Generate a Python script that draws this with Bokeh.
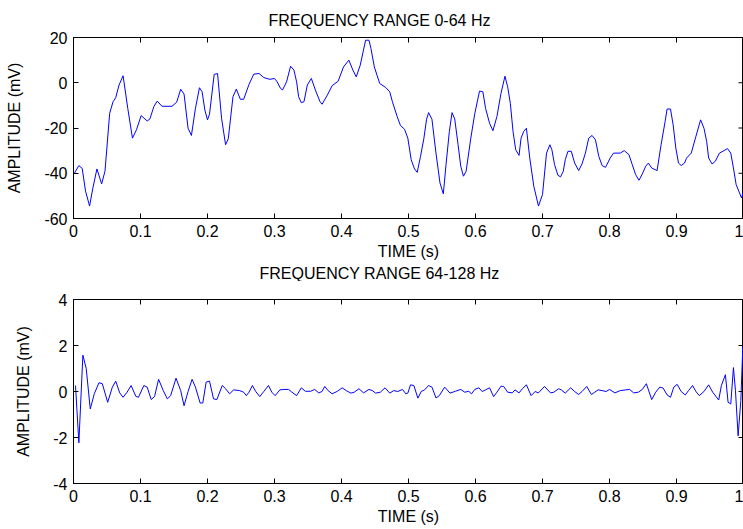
import math
from bokeh.plotting import figure
from bokeh.layouts import column
from bokeh.models import Range1d, FixedTicker, Title
from bokeh.embed import file_html
from bokeh.resources import INLINE

FONT = "Liberation Sans"

# ---------------- data ----------------
title_low = "FREQUENCY RANGE 0-64 Hz"
title_high = "FREQUENCY RANGE 64-128 Hz"
x_label = "TIME (s)"
y_label = "AMPLITUDE (mV)"

x_ticks = [0, 0.1, 0.2, 0.3, 0.4, 0.5, 0.6, 0.7, 0.8, 0.9, 1.0]
x_tick_labels = ["0", "0.1", "0.2", "0.3", "0.4", "0.5", "0.6", "0.7", "0.8", "0.9", "1"]
y_ticks_low = [-60, -40, -20, 0, 20]
y_tick_labels_low = ["-60", "-40", "-20", "0", "20"]
y_ticks_high = [-4, -2, 0, 2, 4]
y_tick_labels_high = ["-4", "-2", "0", "2", "4"]

t_low = [0.0015, 0.008, 0.013, 0.018, 0.024, 0.029, 0.035, 0.042, 0.047, 0.054,
         0.059, 0.063, 0.068, 0.074, 0.081, 0.088, 0.094, 0.101, 0.110, 0.114,
         0.120, 0.125, 0.132, 0.147, 0.154, 0.160, 0.165, 0.171, 0.176, 0.182,
         0.188, 0.192, 0.196, 0.200, 0.203, 0.210, 0.215, 0.221, 0.227, 0.231,
         0.238, 0.243, 0.249, 0.254, 0.262, 0.269, 0.277, 0.284, 0.293, 0.300,
         0.304, 0.309, 0.312, 0.318, 0.324, 0.329, 0.333, 0.336, 0.340, 0.344,
         0.349, 0.355, 0.361, 0.368, 0.371, 0.379, 0.386, 0.395, 0.403, 0.411,
         0.417, 0.422, 0.428, 0.436, 0.441, 0.444, 0.449, 0.457, 0.466, 0.472,
         0.476, 0.483, 0.488, 0.494, 0.499, 0.504, 0.509, 0.513, 0.518, 0.523,
         0.527, 0.530, 0.535, 0.541, 0.547, 0.552, 0.556, 0.561, 0.565, 0.569,
         0.574, 0.578, 0.582, 0.586, 0.593, 0.599, 0.606, 0.611, 0.615, 0.621,
         0.626, 0.632, 0.638, 0.644, 0.648, 0.652, 0.656, 0.660, 0.665, 0.668,
         0.672, 0.676, 0.681, 0.687, 0.694, 0.700, 0.706, 0.711, 0.714, 0.718,
         0.723, 0.727, 0.731, 0.734, 0.738, 0.743, 0.748, 0.754, 0.759, 0.764,
         0.769, 0.774, 0.779, 0.784, 0.789, 0.794, 0.801, 0.806, 0.816, 0.822,
         0.829, 0.834, 0.839, 0.844, 0.849, 0.854, 0.858, 0.863, 0.871, 0.877,
         0.883, 0.886, 0.891, 0.895, 0.899, 0.903, 0.907, 0.912, 0.915, 0.922,
         0.929, 0.936, 0.941, 0.945, 0.948, 0.953, 0.958, 0.964, 0.971, 0.976,
         0.981, 0.985, 0.989, 0.993, 0.997, 1.000]
amp_low = [-39.9, -36.6, -37.9, -47.9, -54.5, -46.4, -38.1, -44.7, -39.1, -13.5,
           -8.4, -6.6, -1.0, 3.1, -11.3, -24.5, -20.8, -14.5, -16.9, -16.0,
           -10.5, -8.1, -10.4, -10.4, -8.6, -2.9, -5.0, -20.1, -23.3, -11.3,
           -2.2, -4.0, -12.0, -16.4, -13.9, 3.7, 4.1, -15.7, -27.4, -24.8,
           -6.2, -2.8, -7.3, -7.3, -0.7, 3.8, 4.1, 2.3, 1.5, 1.9,
           0.4, -2.5, -3.2, 0.4, 7.3, 5.6, 0.4, -6.2, -8.8, -8.4,
           -1.0, 1.9, -3.2, -8.4, -9.5, -5.4, -1.3, 0.7, 7.0, 10.0,
           5.6, 2.6, 7.8, 18.8, 18.8, 15.1, 7.0, -0.3, -2.1, -4.0,
           -8.4, -14.9, -18.9, -20.5, -24.5, -34.0, -38.1, -39.6, -32.5, -24.5,
           -16.1, -13.2, -16.1, -31.1, -44.3, -49.1, -36.2, -21.5, -13.2, -16.0,
           -27.4, -36.9, -41.3, -39.1, -24.5, -13.5, -3.7, -4.0, -11.3, -17.9,
           -21.2, -14.9, -4.7, 2.9, -1.8, -9.1, -21.5, -29.6, -32.1, -24.5,
           -21.5, -20.1, -33.3, -45.7, -54.5, -49.4, -31.1, -27.4, -29.6, -36.2,
           -40.9, -41.6, -39.1, -34.0, -30.3, -30.3, -35.5, -38.8, -35.9, -31.1,
           -24.5, -23.3, -25.2, -32.5, -36.6, -37.4, -33.3, -31.1, -31.1, -30.0,
           -31.8, -36.2, -40.6, -43.1, -40.3, -36.9, -35.5, -37.7, -38.8, -27.4,
           -17.1, -11.6, -11.6, -18.6, -28.9, -35.5, -36.6, -35.5, -33.3, -31.1,
           -23.7, -16.4, -20.1, -25.9, -33.3, -35.9, -34.7, -31.1, -30.0, -29.1,
           -31.1, -37.7, -45.0, -47.9, -50.9, -47.9]

t_high = [0.003, 0.008, 0.014, 0.019, 0.025, 0.031, 0.038, 0.043, 0.051, 0.058,
          0.063, 0.069, 0.074, 0.080, 0.086, 0.093, 0.097, 0.105, 0.110, 0.116,
          0.121, 0.127, 0.134, 0.140, 0.145, 0.153, 0.160, 0.165, 0.171, 0.177,
          0.182, 0.189, 0.193, 0.198, 0.203, 0.209, 0.214, 0.222, 0.227, 0.233,
          0.239, 0.248, 0.254, 0.258, 0.262, 0.267, 0.272, 0.278, 0.284, 0.291,
          0.296, 0.301, 0.308, 0.314, 0.321, 0.326, 0.333, 0.340, 0.346, 0.354,
          0.360, 0.366, 0.371, 0.375, 0.380, 0.386, 0.394, 0.401, 0.407, 0.414,
          0.419, 0.426, 0.433, 0.441, 0.446, 0.451, 0.458, 0.465, 0.472, 0.478,
          0.484, 0.491, 0.496, 0.499, 0.503, 0.508, 0.514, 0.519, 0.524, 0.530,
          0.535, 0.541, 0.546, 0.554, 0.562, 0.570, 0.578, 0.584, 0.590, 0.594,
          0.599, 0.605, 0.610, 0.615, 0.621, 0.627, 0.632, 0.638, 0.642, 0.648,
          0.655, 0.659, 0.665, 0.670, 0.676, 0.683, 0.689, 0.694, 0.703, 0.712,
          0.717, 0.724, 0.728, 0.734, 0.742, 0.748, 0.754, 0.759, 0.766, 0.773,
          0.778, 0.783, 0.789, 0.795, 0.800, 0.808, 0.816, 0.824, 0.830, 0.836,
          0.843, 0.849, 0.855, 0.863, 0.869, 0.875, 0.880, 0.886, 0.891, 0.896,
          0.901, 0.907, 0.913, 0.918, 0.924, 0.929, 0.934, 0.941, 0.948, 0.954,
          0.963, 0.967, 0.973, 0.977, 0.981, 0.985, 0.988, 0.992, 0.996, 0.999]
amp_high = [0.26, -2.23, 1.58, 1.0, -0.76, -0.1, 0.38, 0.34, -0.47, 0.19,
            0.45, -0.06, -0.25, -0.03, 0.26, -0.21, -0.25, 0.26, 0.19, -0.35,
            -0.22, 0.53, 0.04, -0.32, -0.18, 0.58, 0.04, -0.62, 0.0, 0.53,
            0.19, -0.5, -0.5, 0.41, 0.45, -0.32, -0.35, 0.26, 0.12, -0.1,
            0.07, 0.04, -0.03, -0.18, -0.03, 0.26, 0.0, -0.22, 0.0, 0.26,
            -0.03, -0.18, 0.07, 0.09, 0.09, -0.03, -0.18, 0.16, 0.01, 0.01,
            0.09, -0.06, 0.0, 0.22, 0.04, -0.1, 0.01, 0.16, 0.04, -0.07,
            -0.03, 0.12, -0.06, 0.09, 0.04, -0.07, -0.03, 0.16, -0.07, 0.04,
            0.0, 0.09, -0.1, -0.07, 0.29, 0.26, -0.29, 0.0, 0.07, 0.26,
            0.19, -0.28, -0.18, 0.19, -0.07, 0.01, 0.09, -0.03, 0.01, -0.1,
            0.09, 0.16, 0.0, 0.07, 0.16, -0.22, -0.03, 0.23, 0.22, -0.03,
            -0.06, 0.07, -0.06, 0.12, 0.29, -0.18, 0.0, -0.06, 0.22, -0.06,
            -0.03, 0.12, 0.07, -0.07, 0.16, 0.0, -0.13, 0.0, 0.22, -0.13,
            -0.03, 0.07, 0.04, 0.0, 0.09, -0.06, 0.04, 0.07, 0.09, -0.06,
            -0.03, 0.09, 0.34, -0.35, -0.03, 0.19, 0.15, -0.15, -0.25, 0.19,
            0.31, 0.0, -0.15, 0.04, 0.26, 0.0, -0.18, 0.0, 0.29, -0.03,
            -0.37, 0.26, 0.73, -0.47, -0.54, 1.04, 0.04, -1.93, -0.4, 1.95]


def style_axis(ax, ticks, labels):
    ax.ticker = FixedTicker(ticks=ticks)
    ax.major_label_overrides = {tk: lb for tk, lb in zip(ticks, labels)}
    ax.major_tick_in = 5
    ax.major_tick_out = 0
    ax.minor_tick_in = 0
    ax.minor_tick_out = 0
    ax.axis_line_color = "black"
    ax.major_tick_line_color = "black"
    ax.major_label_text_color = "black"
    ax.major_label_text_font = FONT
    ax.major_label_text_font_size = "16px"
    ax.major_label_standoff = 6


def style_title(tt, offset, standoff):
    tt.text_font = FONT
    tt.text_font_size = "16px"
    tt.text_font_style = "normal"
    tt.text_color = "black"
    tt.align = "left"
    tt.offset = offset
    tt.standoff = standoff


def make_fig(t, v, y_lo, y_hi, yticks, ylabels, height, top, bottom):
    p = figure(width=743, height=height, output_backend="svg", toolbar_location=None,
               x_range=Range1d(0, 1), y_range=Range1d(y_lo, y_hi),
               min_border_left=73, min_border_right=0,
               min_border_top=top, min_border_bottom=bottom)
    p.line(t, v, line_color="#0000ff", line_width=1)
    # inward tick marks on the top and right edges of the box (clipped to frame)
    p.scatter(x_ticks, [y_hi] * len(x_ticks), marker="dash", angle=math.pi / 2,
              size=10, line_color="black", line_width=1)
    p.scatter([1.0] * len(yticks), yticks, marker="dash",
              size=10, line_color="black", line_width=1)
    p.grid.visible = False
    p.outline_line_color = "black"
    p.background_fill_color = "white"
    p.border_fill_color = "white"

    style_axis(p.xaxis[0], x_ticks, x_tick_labels)
    style_axis(p.yaxis[0], yticks, ylabels)
    p.xaxis[0].axis_label = x_label
    p.yaxis[0].axis_label = y_label
    for ax in (p.xaxis[0], p.yaxis[0]):
        ax.axis_label_text_font = FONT
        ax.axis_label_text_font_size = "16px"
        ax.axis_label_text_font_style = "normal"
        ax.axis_label_text_color = "black"
    p.xaxis[0].axis_label_standoff = 3
    p.yaxis[0].axis_label_standoff = 18
    return p


# upper panel: its title sits above its frame
p1 = make_fig(t_low, amp_low, -60, 20, y_ticks_low, y_tick_labels_low, 281, 36, 45)
p1.title.text = title_low
style_title(p1.title, 195, 18)
# the lower panel's heading is carried in the strip just under the upper panel's axis,
# so that it can sit as close to that axis label as in the original layout
t2 = Title(text=title_high)
style_title(t2, 186, 0)
p1.add_layout(t2, "below")

p2 = make_fig(t_high, amp_high, -4, 4, y_ticks_high, y_tick_labels_high, 248, 18, 46)
p2.title.text = ""

layout = column(p1, p2, spacing=0)
open("out.html", "w").write(file_html(layout, INLINE))
